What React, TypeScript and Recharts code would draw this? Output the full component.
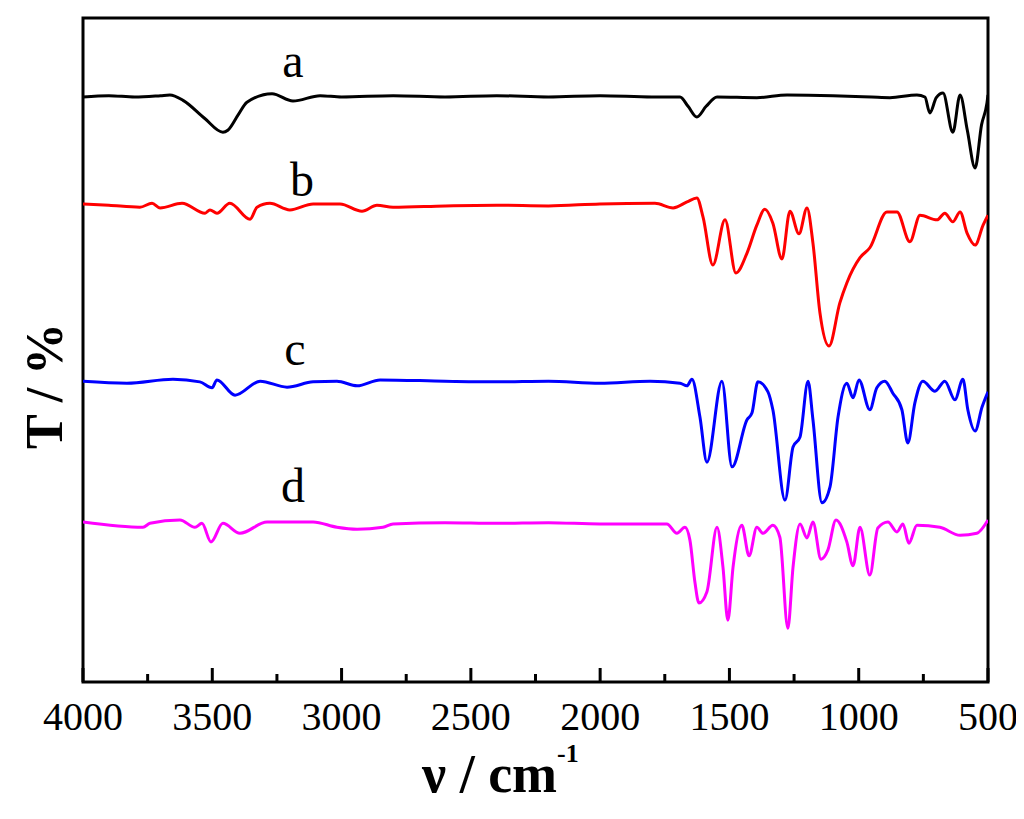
import React from 'react';
import { LineChart, Line, XAxis, YAxis, ReferenceArea, ReferenceDot } from 'recharts';

// FTIR spectra: [wavenumber (cm-1), T (offset %)]
const spectrumA: [number, number][] = [
  [4000, 88.1], [3900, 88.3], [3800, 88.1], [3700, 88.3], [3664, 88.4], [3613, 87.6],
  [3530, 84.9], [3459, 82.8], [3440, 83.1], [3400, 85.4], [3366, 87.3], [3269, 88.6],
  [3188, 87.5], [3083, 88.3], [3000, 88.1], [2800, 88.3], [2600, 88.1], [2400, 88.3],
  [2200, 88.1], [2000, 88.3], [1800, 88.1], [1691, 88.1], [1660, 86.7], [1626, 85.1],
  [1590, 86.7], [1548, 88.1], [1394, 88.0], [1277, 88.4], [1100, 88.3], [950, 88.1],
  [879, 88.0], [775, 88.4], [744, 88.1], [725, 85.7], [700, 88.0], [674, 88.7],
  [636, 82.8], [608, 88.4], [580, 83.1], [550, 77.4], [525, 83.9], [504, 87.2], [500, 88.4],
];

const spectrumB: [number, number][] = [
  [4000, 72.0], [3900, 71.8], [3780, 71.5], [3733, 72.1], [3702, 71.4], [3617, 72.1],
  [3528, 70.6], [3509, 71.1], [3482, 70.6], [3432, 72.1], [3354, 69.7], [3327, 71.5],
  [3277, 72.1], [3200, 71.1], [3110, 72.0], [3006, 72.0], [2921, 70.9], [2863, 71.8],
  [2801, 71.5], [2600, 71.7], [2400, 71.8], [2200, 71.7], [2001, 72.0], [1788, 72.1],
  [1718, 71.4], [1664, 72.3], [1626, 72.9], [1602, 70.0], [1564, 62.8], [1517, 69.6],
  [1475, 61.6], [1432, 64.6], [1394, 68.8], [1363, 71.2], [1332, 69.1], [1297, 63.7],
  [1266, 70.9], [1231, 67.5], [1200, 71.4], [1177, 66.1], [1150, 55.6], [1115, 50.6],
  [1073, 57.1], [1046, 60.1], [995, 63.9], [957, 65.4], [891, 70.8], [852, 70.8],
  [802, 66.3], [763, 70.3], [697, 69.6], [667, 70.6], [636, 69.3], [608, 70.8],
  [581, 67.6], [550, 65.8], [519, 68.8], [500, 70.3],
];

const spectrumC: [number, number][] = [
  [4000, 45.3], [3830, 45.0], [3652, 45.6], [3548, 45.2], [3501, 44.3], [3482, 45.5],
  [3412, 43.2], [3315, 45.3], [3211, 44.4], [3110, 45.2], [3018, 45.3], [2940, 44.6],
  [2851, 45.5], [2600, 45.3], [2400, 45.2], [2200, 45.3], [2001, 45.0], [1807, 45.3],
  [1691, 45.0], [1664, 44.6], [1645, 45.6], [1614, 39.9], [1587, 33.1], [1529, 45.3],
  [1490, 32.4], [1432, 39.5], [1413, 40.5], [1390, 45.2], [1351, 43.7], [1332, 41.0],
  [1285, 27.4], [1254, 35.4], [1227, 36.9], [1196, 45.3], [1177, 39.5], [1142, 27.0],
  [1111, 29.4], [1080, 39.9], [1046, 45.0], [1022, 42.8], [999, 45.5], [957, 41.0],
  [930, 44.3], [899, 45.3], [868, 43.5], [833, 41.0], [810, 36.0], [783, 42.0],
  [752, 45.3], [705, 43.8], [667, 45.3], [628, 42.5], [597, 45.6], [578, 41.0],
  [550, 37.8], [523, 41.4], [500, 43.7],
];

const spectrumD: [number, number][] = [
  [4000, 24.1], [3768, 23.3], [3741, 23.9], [3625, 24.4], [3567, 23.3], [3540, 23.9],
  [3505, 21.1], [3459, 23.9], [3393, 22.4], [3288, 24.1], [3110, 24.1], [3018, 23.3],
  [2940, 23.0], [2840, 23.3], [2801, 23.8], [2600, 24.0], [2400, 23.9], [2200, 24.0],
  [2001, 23.8], [1742, 23.8], [1703, 22.4], [1672, 23.3], [1653, 21.4], [1633, 14.9],
  [1618, 11.9], [1587, 13.6], [1548, 23.3], [1525, 17.3], [1506, 9.3], [1486, 17.3],
  [1452, 23.6], [1424, 19.0], [1394, 23.3], [1370, 22.4], [1332, 23.6], [1305, 21.8],
  [1274, 8.1], [1254, 17.3], [1227, 23.8], [1200, 21.7], [1177, 24.1], [1146, 18.5],
  [1119, 19.9], [1088, 24.4], [1046, 21.1], [1022, 17.5], [995, 23.3], [957, 16.1],
  [926, 23.2], [887, 24.1], [852, 22.6], [829, 23.8], [806, 20.9], [775, 23.6],
  [686, 23.3], [608, 22.1], [543, 22.4], [500, 24.4],
];

const xTicks = [4000, 3750, 3500, 3250, 3000, 2750, 2500, 2250, 2000, 1750, 1500, 1250, 1000, 750, 500];
const majorTicks = [4000, 3500, 3000, 2500, 2000, 1500, 1000, 500];

// curve labels: [text, wavenumber, T]
const curveLabels: [string, number, number][] = [
  ['a', 3188, 91.1],
  ['b', 3153, 73.2],
  ['c', 3180, 47.7],
  ['d', 3188, 27.1],
];

const SERIES = [
  { key: 'a', data: spectrumA, color: '#000000' },
  { key: 'b', data: spectrumB, color: '#ff0000' },
  { key: 'c', data: spectrumC, color: '#0000ff' },
  { key: 'd', data: spectrumD, color: '#ff00ff' },
];

const FONT = '"Liberation Serif", "Times New Roman", serif';
const serif = { fontFamily: FONT };

const toRows = (pts: [number, number][]) => pts.map(([wn, t]) => ({ wn, t }));

const XTick = ({ x, y, payload }: any) => {
  const major = majorTicks.includes(payload.value);
  return (
    <g>
      <line x1={x} x2={x} y1={y} y2={y - (major ? 14 : 8)} stroke="#000" strokeWidth={3} />
      {major && (
        <text x={x} y={y + 48} textAnchor="middle" style={serif} fontSize={40} fill="#000">
          {payload.value}
        </text>
      )}
    </g>
  );
};

export default function App() {
  return (
    <div style={{ width: 1010, height: 800, fontFamily: FONT }}>
      <LineChart width={1010} height={800} margin={{ top: 10, right: 30, bottom: 96, left: 75 }}>
        <XAxis
          type="number"
          dataKey="wn"
          domain={[500, 4000]}
          reversed
          ticks={xTicks}
          interval={0}
          allowDataOverflow
          axisLine={false}
          tickLine={false}
          tickSize={0}
          tickMargin={0}
          tick={<XTick />}
        />
        <YAxis type="number" dataKey="t" domain={[0, 100]} hide width={0} />
        <ReferenceArea
          x1={4000}
          x2={500}
          y1={0}
          y2={100}
          fill="none"
          fillOpacity={0}
          stroke="#000"
          strokeWidth={3}
        />
        {SERIES.map((s) => (
          <Line
            key={s.key}
            data={toRows(s.data)}
            dataKey="t"
            type="monotone"
            stroke={s.color}
            strokeWidth={3}
            dot={false}
            activeDot={false}
            isAnimationActive={false}
          />
        ))}
        {curveLabels.map(([txt, wn, t]) => (
          <ReferenceDot
            key={txt}
            x={wn}
            y={t}
            r={0}
            shape={(p: any) => (
              <text x={p.cx} y={p.cy} textAnchor="middle" style={serif} fontSize={48} fill="#000">
                {txt}
              </text>
            )}
          />
        ))}
        <text
          x={54}
          y={378}
          transform="rotate(-90, 54, 378)"
          textAnchor="middle"
          style={serif}
          fontWeight="bold"
          fontSize={52}
          fill="#000"
        >
          T / %
        </text>
        <text x={414} y={784} style={serif} fontWeight="bold" fontSize={54} fill="#000">
          ν / cm
          <tspan dy={-30} fontSize={26}>-1</tspan>
        </text>
      </LineChart>
    </div>
  );
}
